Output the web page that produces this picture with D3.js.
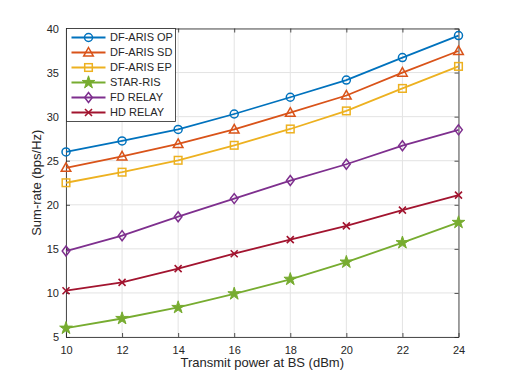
<!DOCTYPE html>
<html>
<head>
<meta charset="utf-8">
<script src="https://cdn.jsdelivr.net/npm/d3@7"></script>
<style>
  body { margin: 0; background: #fff; }
  svg text { font-family: "Liberation Sans", Arial, sans-serif; fill: #262626; }
</style>
</head>
<body>
<div id="app"></div>
<script>
// transmit power at BS (dBm)
const power = [10, 12, 14, 16, 18, 20, 22, 24]

const dfArisOp = [26.0, 27.25, 28.55, 30.3, 32.2, 34.15, 36.7, 39.2]
const dfArisSd = [24.2, 25.5, 26.9, 28.55, 30.45, 32.4, 35.0, 37.45]
const dfArisEp = [22.5, 23.7, 25.05, 26.75, 28.6, 30.65, 33.2, 35.7]
const starRis = [6.0, 7.1, 8.35, 9.9, 11.55, 13.5, 15.7, 18.0]
const fdRelay = [14.75, 16.5, 18.65, 20.7, 22.75, 24.6, 26.7, 28.5]
const hdRelay = [10.25, 11.2, 12.75, 14.45, 16.05, 17.6, 19.4, 21.1]

const xTicks = [10, 12, 14, 16, 18, 20, 22, 24]
const yTicks = [5, 10, 15, 20, 25, 30, 35, 40]

const series = [
  { name: 'DF-ARIS OP', values: dfArisOp, color: '#0072BD', marker: 'circle' },
  { name: 'DF-ARIS SD', values: dfArisSd, color: '#D95319', marker: 'triangle' },
  { name: 'DF-ARIS EP', values: dfArisEp, color: '#EDB120', marker: 'square' },
  { name: 'STAR-RIS', values: starRis, color: '#77AC30', marker: 'star' },
  { name: 'FD RELAY', values: fdRelay, color: '#7E2F8E', marker: 'diamond' },
  { name: 'HD RELAY', values: hdRelay, color: '#A2142F', marker: 'cross' }
]

const width = 506
const height = 379
const plotLeft = 66, plotRight = 458.5, plotTop = 28.5, plotBottom = 337

const svg = d3.select('#app')
  .append('svg')
  .attr('width', width)
  .attr('height', height)

const x = d3.scaleLinear().domain([10, 24]).range([plotLeft, plotRight])
const y = d3.scaleLinear().domain([5, 40]).range([plotBottom, plotTop])

// grid
svg.append('g')
  .selectAll('line')
  .data(xTicks)
  .enter()
  .append('line')
  .attr('x1', d => x(d)).attr('x2', d => x(d))
  .attr('y1', plotTop).attr('y2', plotBottom)
  .attr('stroke', '#e3e3e3')
  .attr('stroke-width', 1)

svg.append('g')
  .selectAll('line')
  .data(yTicks)
  .enter()
  .append('line')
  .attr('x1', plotLeft).attr('x2', plotRight)
  .attr('y1', d => y(d)).attr('y2', d => y(d))
  .attr('stroke', '#e3e3e3')
  .attr('stroke-width', 1)

// axes with inward ticks
const styleAxis = g => {
  g.select('.domain').attr('stroke', '#262626').attr('stroke-width', 0.8)
  g.selectAll('.tick line').attr('stroke', '#262626').attr('stroke-width', 0.8)
  g.selectAll('.tick text').attr('font-size', '11px').attr('fill', '#262626')
}

svg.append('g')
  .attr('transform', `translate(0,${plotBottom})`)
  .call(d3.axisBottom(x).tickValues(xTicks).tickSize(-4).tickSizeOuter(0).tickPadding(9))
  .call(styleAxis)

svg.append('g')
  .attr('transform', `translate(0,${plotTop})`)
  .call(d3.axisTop(x).tickValues(xTicks).tickSize(-4).tickSizeOuter(0).tickFormat(''))
  .call(styleAxis)

svg.append('g')
  .attr('transform', `translate(${plotLeft},0)`)
  .call(d3.axisLeft(y).tickValues(yTicks).tickSize(-4).tickSizeOuter(0).tickPadding(7))
  .call(styleAxis)

svg.append('g')
  .attr('transform', `translate(${plotRight},0)`)
  .call(d3.axisRight(y).tickValues(yTicks).tickSize(-4).tickSizeOuter(0).tickFormat(''))
  .call(styleAxis)

// axis labels
svg.append('text')
  .attr('x', (plotLeft + plotRight) / 2)
  .attr('y', 367)
  .attr('text-anchor', 'middle')
  .attr('font-size', '13px')
  .text('Transmit power at BS (dBm)')

svg.append('text')
  .attr('transform', `translate(41,${(plotTop + plotBottom) / 2}) rotate(-90)`)
  .attr('text-anchor', 'middle')
  .attr('font-size', '13px')
  .text('Sum-rate (bps/Hz)')

// markers
const drawMarker = (g, type, color) => {
  if (type === 'circle') {
    g.append('circle').attr('r', 4).attr('fill', 'none').attr('stroke', color).attr('stroke-width', 1.5)
  } else if (type === 'triangle') {
    g.append('path').attr('d', 'M0,-5L4.8,3.6L-4.8,3.6Z').attr('fill', 'none').attr('stroke', color).attr('stroke-width', 1.5)
  } else if (type === 'square') {
    g.append('rect').attr('x', -3.8).attr('y', -3.8).attr('width', 7.6).attr('height', 7.6)
      .attr('fill', 'none').attr('stroke', color).attr('stroke-width', 1.5)
  } else if (type === 'star') {
    g.append('path').attr('d', d3.symbol(d3.symbolStar, 50)()).attr('fill', color).attr('stroke', color).attr('stroke-width', 1)
  } else if (type === 'diamond') {
    g.append('path').attr('d', 'M0,-5L3.8,0L0,5L-3.8,0Z').attr('fill', 'none').attr('stroke', color).attr('stroke-width', 1.5)
  } else if (type === 'cross') {
    g.append('path').attr('d', 'M-3.5,-3.5L3.5,3.5M-3.5,3.5L3.5,-3.5').attr('fill', 'none').attr('stroke', color).attr('stroke-width', 1.6)
  }
}

const line = d3.line()
  .x((d, i) => x(power[i]))
  .y(d => y(d))

series.forEach(s => {
  svg.append('path')
    .datum(s.values)
    .attr('d', line)
    .attr('fill', 'none')
    .attr('stroke', s.color)
    .attr('stroke-width', 1.8)

  s.values.forEach((v, i) => {
    const g = svg.append('g').attr('transform', `translate(${x(power[i])},${y(v)})`)
    drawMarker(g, s.marker, s.color)
  })
})

// legend
const legend = svg.append('g').attr('transform', `translate(${plotLeft + 0.5},${plotTop})`)
legend.append('rect')
  .attr('x', 0).attr('y', 0)
  .attr('width', 109).attr('height', 93)
  .attr('fill', '#fff')
  .attr('stroke', '#262626')
  .attr('stroke-width', 0.8)

series.forEach((s, i) => {
  const yy = 9 + i * 15
  legend.append('line')
    .attr('x1', 5).attr('x2', 39)
    .attr('y1', yy).attr('y2', yy)
    .attr('stroke', s.color)
    .attr('stroke-width', 1.8)
  const g = legend.append('g').attr('transform', `translate(22,${yy})`)
  drawMarker(g, s.marker, s.color)
  legend.append('text')
    .attr('x', 43.5)
    .attr('y', yy)
    .attr('dy', '0.35em')
    .attr('font-size', '11px')
    .text(s.name)
})
</script>
</body>
</html>
